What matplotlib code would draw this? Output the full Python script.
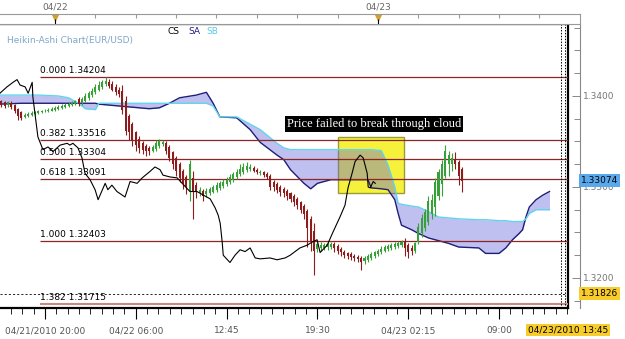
import numpy as np
import matplotlib.pyplot as plt
from matplotlib.patches import Rectangle
from matplotlib.ticker import FixedLocator, MultipleLocator

# Heikin-Ashi candles, EUR/USD 15 min, bar 0 = 04/21 16:45
ha_open = [1.3391, 1.3394, 1.3393, 1.3390, 1.3392, 1.3390, 1.3386, 1.3382, 1.3377, 1.3378,
           1.3379, 1.3380, 1.3381, 1.3382, 1.3383, 1.3383, 1.3384, 1.3385, 1.3386, 1.3387,
           1.3388, 1.3389, 1.3390, 1.3391, 1.3397, 1.3392, 1.3395, 1.3398, 1.3401, 1.3404,
           1.3407, 1.3410, 1.3413, 1.3415, 1.3413, 1.3410, 1.3407, 1.3405, 1.3395, 1.3378,
           1.3369, 1.3360, 1.3353, 1.3348, 1.3345, 1.3343, 1.3340, 1.3342, 1.3345, 1.3347,
           1.3348, 1.3344, 1.3338, 1.3332, 1.3325, 1.3318, 1.3311, 1.3296, 1.3310, 1.3302,
           1.3293, 1.3296, 1.3292, 1.3293, 1.3295, 1.3297, 1.3299, 1.3301, 1.3303, 1.3305,
           1.3308, 1.3311, 1.3314, 1.3317, 1.3319, 1.3320, 1.3321, 1.3319, 1.3315, 1.3316,
           1.3314, 1.3312, 1.3306, 1.3303, 1.3300, 1.3298, 1.3296, 1.3293, 1.3290, 1.3287,
           1.3283, 1.3279, 1.3274, 1.3265, 1.3252, 1.3232, 1.3233, 1.3233, 1.3234, 1.3234,
           1.3237, 1.3235, 1.3232, 1.3229, 1.3227, 1.3226, 1.3224, 1.3223, 1.3222, 1.3219,
           1.3220, 1.3222, 1.3224, 1.3226, 1.3228, 1.3230, 1.3232, 1.3233, 1.3234, 1.3235,
           1.3236, 1.3240, 1.3236, 1.3233, 1.3230, 1.3240, 1.3249, 1.3255, 1.3262, 1.3270,
           1.3278, 1.3290, 1.3303, 1.3312, 1.3325, 1.3325, 1.3330, 1.3327, 1.3320]
ha_close = [1.3394, 1.3390, 1.3389, 1.3393, 1.3388, 1.3384, 1.3378, 1.3376, 1.3379, 1.3380,
            1.3381, 1.3382, 1.3383, 1.3383, 1.3384, 1.3385, 1.3386, 1.3387, 1.3388, 1.3389,
            1.3390, 1.3391, 1.3392, 1.3394, 1.3391, 1.3397, 1.3400, 1.3403, 1.3406, 1.3410,
            1.3412, 1.3415, 1.3417, 1.3411, 1.3407, 1.3404, 1.3402, 1.3385, 1.3362, 1.3360,
            1.3352, 1.3346, 1.3343, 1.3341, 1.3340, 1.3339, 1.3344, 1.3348, 1.3350, 1.3349,
            1.3340, 1.3332, 1.3325, 1.3318, 1.3310, 1.3304, 1.3300, 1.3325, 1.3295, 1.3294,
            1.3297, 1.3290, 1.3296, 1.3298, 1.3300, 1.3302, 1.3304, 1.3306, 1.3308, 1.3311,
            1.3314, 1.3317, 1.3320, 1.3322, 1.3323, 1.3322, 1.3318, 1.3316, 1.3317, 1.3313,
            1.3311, 1.3300, 1.3300, 1.3297, 1.3295, 1.3293, 1.3290, 1.3287, 1.3283, 1.3280,
            1.3275, 1.3270, 1.3255, 1.3240, 1.3230, 1.3237, 1.3236, 1.3236, 1.3237, 1.3237,
            1.3233, 1.3230, 1.3228, 1.3225, 1.3224, 1.3223, 1.3222, 1.3221, 1.3218, 1.3222,
            1.3224, 1.3226, 1.3228, 1.3230, 1.3232, 1.3234, 1.3235, 1.3236, 1.3237, 1.3238,
            1.3239, 1.3233, 1.3229, 1.3230, 1.3238, 1.3256, 1.3266, 1.3272, 1.3285, 1.3286,
            1.3305, 1.3317, 1.3325, 1.3340, 1.3335, 1.3332, 1.3325, 1.3312, 1.3307]
ha_high = [1.3396, 1.3396, 1.3395, 1.3395, 1.3394, 1.3391, 1.3387, 1.3384, 1.3381, 1.3382,
           1.3383, 1.3384, 1.3385, 1.3385, 1.3386, 1.3387, 1.3388, 1.3389, 1.3390, 1.3391,
           1.3392, 1.3393, 1.3394, 1.3396, 1.3399, 1.3399, 1.3403, 1.3406, 1.3409, 1.3413,
           1.3416, 1.3418, 1.3421, 1.3419, 1.3416, 1.3413, 1.3410, 1.3412, 1.3400, 1.3380,
           1.3371, 1.3362, 1.3356, 1.3350, 1.3347, 1.3345, 1.3346, 1.3352, 1.3353, 1.3352,
           1.3351, 1.3346, 1.3340, 1.3334, 1.3327, 1.3320, 1.3313, 1.3330, 1.3318, 1.3305,
           1.3300, 1.3298, 1.3299, 1.3300, 1.3302, 1.3305, 1.3307, 1.3309, 1.3311, 1.3314,
           1.3317, 1.3320, 1.3325, 1.3326, 1.3327, 1.3325, 1.3323, 1.3321, 1.3319, 1.3318,
           1.3316, 1.3314, 1.3308, 1.3305, 1.3302, 1.3300, 1.3298, 1.3295, 1.3292, 1.3289,
           1.3285, 1.3281, 1.3276, 1.3268, 1.3260, 1.3240, 1.3239, 1.3238, 1.3239, 1.3240,
           1.3239, 1.3237, 1.3234, 1.3231, 1.3229, 1.3228, 1.3226, 1.3225, 1.3224, 1.3224,
           1.3226, 1.3228, 1.3230, 1.3232, 1.3235, 1.3236, 1.3237, 1.3238, 1.3240, 1.3241,
           1.3242, 1.3244, 1.3238, 1.3236, 1.3240, 1.3260, 1.3270, 1.3276, 1.3290, 1.3292,
           1.3310, 1.3320, 1.3330, 1.3346, 1.3340, 1.3337, 1.3338, 1.3330, 1.3322]
ha_low = [1.3389, 1.3388, 1.3387, 1.3388, 1.3386, 1.3381, 1.3374, 1.3374, 1.3376, 1.3377,
          1.3378, 1.3379, 1.3380, 1.3381, 1.3382, 1.3382, 1.3383, 1.3384, 1.3385, 1.3386,
          1.3387, 1.3388, 1.3389, 1.3390, 1.3389, 1.3390, 1.3393, 1.3396, 1.3399, 1.3402,
          1.3405, 1.3408, 1.3411, 1.3409, 1.3405, 1.3401, 1.3399, 1.3380, 1.3357, 1.3352,
          1.3345, 1.3340, 1.3337, 1.3336, 1.3334, 1.3335, 1.3338, 1.3340, 1.3343, 1.3345,
          1.3336, 1.3328, 1.3320, 1.3312, 1.3305, 1.3298, 1.3292, 1.3285, 1.3265, 1.3288,
          1.3290, 1.3285, 1.3289, 1.3291, 1.3293, 1.3295, 1.3297, 1.3299, 1.3301, 1.3303,
          1.3306, 1.3309, 1.3312, 1.3314, 1.3316, 1.3318, 1.3316, 1.3314, 1.3313, 1.3311,
          1.3309, 1.3297, 1.3296, 1.3293, 1.3290, 1.3289, 1.3286, 1.3283, 1.3279, 1.3276,
          1.3271, 1.3265, 1.3234, 1.3230, 1.3203, 1.3228, 1.3230, 1.3231, 1.3231, 1.3232,
          1.3228, 1.3226, 1.3224, 1.3222, 1.3221, 1.3220, 1.3219, 1.3218, 1.3209, 1.3215,
          1.3218, 1.3220, 1.3222, 1.3224, 1.3226, 1.3228, 1.3230, 1.3231, 1.3232, 1.3233,
          1.3234, 1.3224, 1.3222, 1.3225, 1.3227, 1.3237, 1.3245, 1.3252, 1.3258, 1.3265,
          1.3268, 1.3286, 1.3290, 1.3310, 1.3312, 1.3318, 1.3320, 1.3302, 1.3295]

# Ichimoku cloud (SA = senkou span A, SB = senkou span B)
cloud_bar = [0, 7, 12, 18, 21, 24, 26, 29, 30, 33, 39, 45, 48, 51, 54, 59, 62, 64, 66, 71,
             75, 78, 83, 85, 87, 91, 93, 95, 99, 110, 111, 114, 116, 118, 119, 120, 123, 125,
             128, 131, 134, 137, 143, 145, 149, 151, 153, 155, 156, 157, 158, 160, 162, 164]
span_a = [1.3391, 1.3392, 1.3392, 1.3392, 1.3392, 1.3392, 1.3392, 1.3392, 1.3391, 1.3390,
          1.3388, 1.3386, 1.3387, 1.3392, 1.3398, 1.3401, 1.3404, 1.3392, 1.3377, 1.3376,
          1.3363, 1.3349, 1.3335, 1.3330, 1.3319, 1.3304, 1.3298, 1.3304, 1.3308, 1.3308,
          1.3299, 1.3298, 1.3297, 1.3286, 1.3271, 1.3258, 1.3253, 1.3249, 1.3244, 1.3241,
          1.3238, 1.3234, 1.3233, 1.3227, 1.3227, 1.3233, 1.3242, 1.3249, 1.3253, 1.3267,
          1.3278, 1.3286, 1.3291, 1.3295]
span_b = [1.3401, 1.3401, 1.3401, 1.3400, 1.3398, 1.3392, 1.3386, 1.3385, 1.3392, 1.3392,
          1.3392, 1.3392, 1.3392, 1.3392, 1.3392, 1.3392, 1.3392, 1.3389, 1.3377, 1.3377,
          1.3369, 1.3363, 1.3348, 1.3343, 1.3341, 1.3341, 1.3341, 1.3341, 1.3341, 1.3341,
          1.3341, 1.3340, 1.3324, 1.3300, 1.3282, 1.3281, 1.3279, 1.3278, 1.3273, 1.3267,
          1.3266, 1.3265, 1.3264, 1.3264, 1.3263, 1.3263, 1.3262, 1.3262, 1.3262, 1.3265,
          1.3271, 1.3275, 1.3275, 1.3275]

# Chikou span (close shifted 26 bars back)
cs_bar = [0.6, 2.7, 4.5, 5.7, 6.6, 8.1, 9.0, 10.2, 10.4, 11.9, 13.4, 14.9, 16.4, 18.5, 20.6,
          21.4, 22.3, 23.8, 25.0, 25.9, 27.4, 28.9, 29.8, 31.9, 32.7, 33.9, 35.4, 37.8, 39.3,
          41.4, 42.9, 45.2, 46.7, 48.2, 49.1, 51.2, 53.3, 54.8, 57.1, 59.2, 61.6, 63.1, 64.6,
          65.5, 66.1, 66.7, 67.0, 69.0, 70.5, 72.0, 73.5, 75.0, 76.5, 78.0, 80.9, 83.0, 85.4,
          86.9, 89.8, 91.9, 93.7, 94.9, 95.8, 97.9, 99.7, 101.7, 103.2, 104.1, 105.3, 106.2,
          107.7, 108.6, 109.8, 110.1, 110.7, 111.6, 112.2]
cs_price = [1.3403, 1.3410, 1.3415, 1.3418, 1.3412, 1.3410, 1.3403, 1.3415, 1.3399, 1.3355,
            1.3341, 1.3344, 1.3339, 1.3346, 1.3348, 1.3346, 1.3348, 1.3343, 1.3332, 1.3315,
            1.3308, 1.3297, 1.3286, 1.3304, 1.3297, 1.3302, 1.3295, 1.3289, 1.3306, 1.3304,
            1.3310, 1.3317, 1.3322, 1.3319, 1.3313, 1.3311, 1.3310, 1.3304, 1.3295, 1.3295,
            1.3290, 1.3287, 1.3277, 1.3269, 1.3260, 1.3239, 1.3225, 1.3217, 1.3225, 1.3231,
            1.3229, 1.3233, 1.3222, 1.3221, 1.3222, 1.3220, 1.3222, 1.3225, 1.3233, 1.3236,
            1.3240, 1.3242, 1.3228, 1.3236, 1.3251, 1.3267, 1.3280, 1.3299, 1.3315, 1.3328,
            1.3335, 1.3332, 1.3315, 1.3300, 1.3299, 1.3306, 1.3304]

fib_ratio = ['0.000', '0.382', '0.500', '0.618', '1.000', '1.382']
fib_price = [1.34204, 1.33516, 1.33304, 1.33091, 1.32403, 1.31715]

last_price = 1.33074
cursor_price = 1.31826
cursor_time = '04/23/2010 13:45'

time_ticks = [14, 41, 68, 95, 122, 149]
time_labels = ['04/21/2010 20:00', '04/22 06:00', '12:45', '19:30', '04/23 02:15', '09:00']
day_ticks = [17, 113]
day_labels = ['04/22', '04/23']
hour_ticks = [29, 41, 53, 65, 77, 89, 101, 125, 137, 149, 161]

note_text = 'Price failed to break through cloud'
note_box = (101.1, 120.8, 1.32934, 1.33549)  # bars / prices

W, H = 625, 339


def px_box(l, t, r, b):
    return [l / W, 1 - b / H, (r - l) / W, (b - t) / H]


fig = plt.figure(figsize=(W / 100, H / 100), dpi=100)
ax = fig.add_axes(px_box(0, 24, 568, 308))
x0, x1 = 0.63, 169.5
ax.set_xlim(x0, x1)
ax.set_ylim(1.31670, 1.34791)

# yellow highlight box (under the cloud)
ax.add_patch(Rectangle((note_box[0], note_box[2]), note_box[1] - note_box[0],
                       note_box[3] - note_box[2], fc='#f6f23c', ec='#9c9c34', lw=1, zorder=1))

# cloud
ax.fill_between(cloud_bar, span_a, span_b, color=(0.38, 0.38, 0.86), alpha=0.4, lw=0, zorder=2)
ax.plot(cloud_bar, span_a, color='#1e1e78', lw=1.0, zorder=3)
ax.plot(cloud_bar, span_b, color='#62d4ec', lw=1.0, zorder=3)

# fibonacci levels
for r, p in zip(fib_ratio, fib_price):
    last = r == '1.382'
    ax.hlines(p, 12.5, x1, colors='#c88888' if last else '#8c2626', lw=1.5 if last else 0.9, zorder=3)
    ax.annotate(f'{r} {p:.5f}', (12.5, p), xytext=(0, 1.5), textcoords='offset points',
                fontsize=6.5, color='black', va='bottom', ha='left', zorder=6)

ax.axhline(cursor_price, color='black', lw=0.6, ls=(0, (2.5, 2.5)), zorder=3)
ax.axvline(167.4, color='black', lw=0.7, ls=(0, (1.5, 1.5)), zorder=3)
ax.axvline(168.6, color='black', lw=0.7, ls=(0, (1.5, 1.5)), zorder=3)

# heikin-ashi candles
o = np.array(ha_open)
c = np.array(ha_close)
xb = np.arange(len(o))
col = np.where(c >= o, '#38a038', '#8e1c1c')
ax.vlines(xb, ha_low, ha_high, colors=col, lw=0.8, zorder=4)
ax.bar(xb, c - o, bottom=o, width=0.6, color=col, lw=0, zorder=4)

# chikou
ax.plot(cs_bar, cs_price, color='black', lw=0.8, zorder=5)

ax.text((note_box[0] + note_box[1]) / 2 + 0.9, 1.33692, note_text, color='white',
        family='Liberation Serif', fontsize=9, ha='center', va='center', zorder=7,
        bbox=dict(fc='black', ec='none', pad=1.3))

for s in ['top', 'bottom', 'right']:
    ax.spines[s].set_linewidth(1.6)
ax.spines['left'].set_visible(False)
ax.set_yticks([])
ax.set_xticks(time_ticks)
ax.set_xticklabels(time_labels)
ax.xaxis.set_minor_locator(FixedLocator(np.arange(14 - 4 * 3.375, x1, 3.375)))
ax.tick_params(axis='x', which='major', direction='out', length=8, width=0.8,
               labelsize=6.5, labelcolor='#555555', pad=5)
ax.tick_params(axis='x', which='minor', direction='out', length=4, width=0.6)

# right price scale
axr = fig.add_axes(px_box(568, 24, 580, 308))
axr.set_ylim(ax.get_ylim())
axr.set_xticks([])
for s in ['top', 'bottom', 'left']:
    axr.spines[s].set_visible(False)
axr.spines['right'].set_color('#888888')
axr.patch.set_alpha(0)
axr.yaxis.tick_right()
axr.set_yticks([1.32, 1.33, 1.34])
axr.set_yticklabels(['1.3200', '1.3300', '1.3400'])
axr.yaxis.set_minor_locator(MultipleLocator(0.0025))
axr.tick_params(axis='y', which='major', direction='in', length=6, width=0.7,
                color='#888888', labelsize=6.5, labelcolor='#777777', pad=2)
axr.tick_params(axis='y', which='minor', direction='in', length=4, width=0.7, color='#888888')
tr = axr.get_yaxis_transform()
axr.text(1.1, last_price, f'{last_price:.5f}', transform=tr, fontsize=6.5, va='center',
         ha='left', bbox=dict(fc='#58a8ec', ec='none', pad=1.3), zorder=8)
axr.text(1.1, cursor_price, f'{cursor_price:.5f}', transform=tr, fontsize=6.5, va='center',
         ha='left', bbox=dict(fc='#f8cc2a', ec='none', pad=1.3), zorder=8)

# top date strip
axt = fig.add_axes(px_box(0, 14, 580, 24))
axt.set_xlim(x0, x0 + 580 / 3.363)
axt.set_ylim(0, 1)
axt.set_xticks([])
axt.set_yticks([])
axt.spines['left'].set_visible(False)
for s in ['top', 'bottom', 'right']:
    axt.spines[s].set_color('#999999')
    axt.spines[s].set_linewidth(0.8)
axt.vlines(hour_ticks, 0.65, 1, color='#999999', lw=0.8)
axt.vlines(day_ticks, 0, 0.5, color='black', lw=0.8)
axt.scatter(day_ticks, [0.62, 0.62], marker='v', s=28, color='#d0a030', lw=0, clip_on=False)
for d, lab in zip(day_ticks, day_labels):
    axt.text(d, 1.75, lab, ha='center', va='center', fontsize=6.5, color='#666666')

fig.text(7 / W, 1 - 41 / H, 'Heikin-Ashi Chart(EUR/USD)', fontsize=6.5, color='#7ea6c8', va='center')
fig.text(168 / W, 1 - 31 / H, 'CS', fontsize=6.5, color='black', va='center')
fig.text(188 / W, 1 - 31 / H, 'SA', fontsize=6.5, color='#1e1e80', va='center')
fig.text(206 / W, 1 - 31 / H, 'SB', fontsize=6.5, color='#58cce6', va='center')
fig.text(528 / W, 1 - 330 / H, cursor_time, fontsize=6.5, color='black', va='center',
         bbox=dict(fc='#f8cc2a', ec='none', pad=1.3))

fig.savefig('out.png', dpi=100)
